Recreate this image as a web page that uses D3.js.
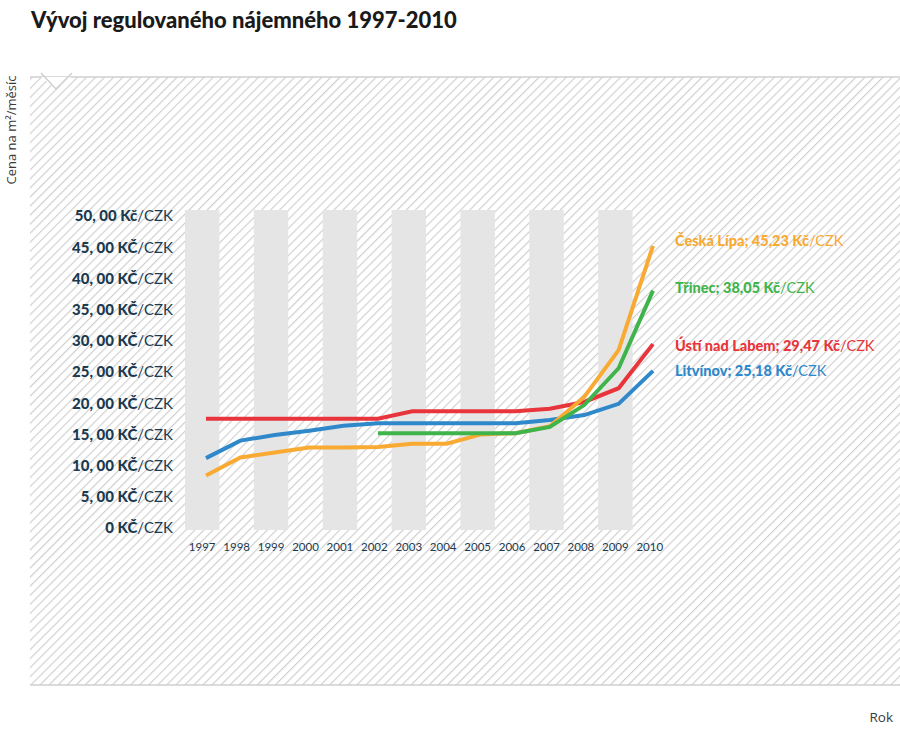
<!DOCTYPE html>
<html><head><meta charset="utf-8">
<script src="https://cdn.jsdelivr.net/npm/d3@7"></script>
<style>body{margin:0;background:#fff} svg{display:block}</style>
</head><body>
<svg id="c" width="900" height="733"></svg>
<script>
const years = [1997,1998,1999,2000,2001,2002,2003,2004,2005,2006,2007,2008,2009,2010];
const yTicks = [0,5,10,15,20,25,30,35,40,45,50];
const yTickLabels = ["0 KČ","5, 00 KČ","10, 00 KČ","15, 00 KČ","20, 00 KČ","25, 00 KČ","30, 00 KČ","35, 00 KČ","40, 00 KČ","45, 00 KČ","50, 00 Kč"];
const ceskaLipa = [8.4,11.3,12.1,12.9,12.9,13.0,13.5,13.5,15.0,15.2,16.3,21.0,28.5,45.23];
const trinec    = [null,null,null,null,null,15.2,15.2,15.2,15.2,15.2,16.2,19.7,25.6,38.05];
const usti      = [17.5,17.5,17.5,17.5,17.5,17.5,18.7,18.7,18.7,18.7,19.1,20.2,22.4,29.47];
const litvinov  = [11.2,14.0,14.9,15.6,16.4,16.8,16.8,16.8,16.8,16.8,17.3,18.1,19.9,25.18];
const seriesNames = ["Ústí nad Labem","Litvínov","Česká Lípa","Třinec"];
const seriesValueLabels = ["29,47 Kč","25,18 Kč","45,23 Kč","38,05 Kč"];
const seriesColors = ["#e8353b","#2e88c9","#f8aa32","#3fb44b"];
const seriesData = [usti, litvinov, ceskaLipa, trinec];
const labelOffsets = [2, 0, -5, -3];

const svg = d3.select("#c");
const FONT = "Lato, 'Open Sans', sans-serif";
const navy = "#1b3a50";

// hatch pattern
const defs = svg.append("defs");
const pat = defs.append("pattern").attr("id","hatch").attr("patternUnits","userSpaceOnUse")
  .attr("width",6.4).attr("height",6.4).attr("patternTransform","rotate(45)");
pat.append("rect").attr("width",6.4).attr("height",6.4).attr("fill","#fff");
pat.append("line").attr("x1",0.6).attr("y1",0).attr("x2",0.6).attr("y2",6.4)
  .attr("stroke","#cdcdcd").attr("stroke-width",1.1);

svg.append("rect").attr("x",30).attr("y",77).attr("width",870).attr("height",608).attr("fill","url(#hatch)");
svg.append("line").attr("x1",30).attr("x2",900).attr("y1",77).attr("y2",77).attr("stroke","#cfcfcf").attr("stroke-width",1.5);
svg.append("line").attr("x1",30).attr("x2",900).attr("y1",685).attr("y2",685).attr("stroke","#cfcfcf").attr("stroke-width",1.5);
svg.append("polygon").attr("points","41,77 56,89 71,77").attr("fill","#fff");
svg.append("polyline").attr("points","41,73 56,89 72,73").attr("fill","none").attr("stroke","#cfcfcf").attr("stroke-width",1.5);

// title
svg.append("text").attr("x",31).attr("y",28).attr("font-family",FONT).attr("font-weight",900)
  .attr("font-size",22).attr("fill","#1a1a1a").text("Vývoj regulovaného nájemného 1997-2010");

// scales
const xBand = d3.scaleBand().domain(years).range([185,667]).padding(0);
const xPt = d3.scalePoint().domain(years).range([206,653]);
const y = d3.scaleLinear().domain([0,50]).range([528,216]);

// column bands
svg.append("g").selectAll("rect").data(years.filter((d,i)=>i%2===0)).join("rect")
  .attr("x",d=>xBand(d)).attr("width",xBand.bandwidth()).attr("y",210).attr("height",320)
  .attr("fill","#e6e5e6");

// y labels
const yl = svg.append("g").selectAll("text").data(yTicks).join("text")
  .attr("x",173).attr("y",d=>y(d)).attr("dy","0.36em").attr("text-anchor","end")
  .attr("font-family",FONT).attr("font-size",15).attr("fill",navy);
yl.append("tspan").attr("font-weight",900).text((d,i)=>yTickLabels[i]);
yl.append("tspan").attr("font-weight",400).text("/CZK");

// x labels
svg.append("g").selectAll("text").data(years).join("text")
  .attr("x",d=>xBand(d)+xBand.bandwidth()/2).attr("y",551).attr("text-anchor","middle")
  .attr("font-family",FONT).attr("font-size",11.5).attr("font-weight",400).attr("fill",navy).text(d=>d);

// lines
const line = d3.line().defined(d=>d.v!=null).x(d=>xPt(d.yr)).y(d=>y(d.v));
seriesData.forEach((arr,k)=>{
  const pts = arr.map((v,i)=>({yr:years[i],v}));
  svg.append("path").datum(pts).attr("d",line).attr("fill","none")
    .attr("stroke",seriesColors[k]).attr("stroke-width",4).attr("stroke-linejoin","miter");
  const last = arr[arr.length-1];
  const t = svg.append("text").attr("x",675).attr("y",y(last)+labelOffsets[k]).attr("dy","0.36em")
    .attr("font-family",FONT).attr("font-size",14.5).attr("fill",seriesColors[k]);
  t.append("tspan").attr("font-weight",900).text(seriesNames[k]+"; "+seriesValueLabels[k]);
  t.append("tspan").attr("font-weight",400).text("/CZK");
});

// axis titles
svg.append("text").attr("transform","translate(16,130) rotate(-90)").attr("text-anchor","middle")
  .attr("font-family","'Open Sans', sans-serif").attr("font-size",13).attr("fill","#3a3a3a").text("Cena na m²/měsíc");
svg.append("text").attr("x",893).attr("y",722).attr("text-anchor","end")
  .attr("font-family","'Open Sans', sans-serif").attr("font-size",13.5).attr("fill","#3a3a3a").text("Rok");
</script>
</body></html>
